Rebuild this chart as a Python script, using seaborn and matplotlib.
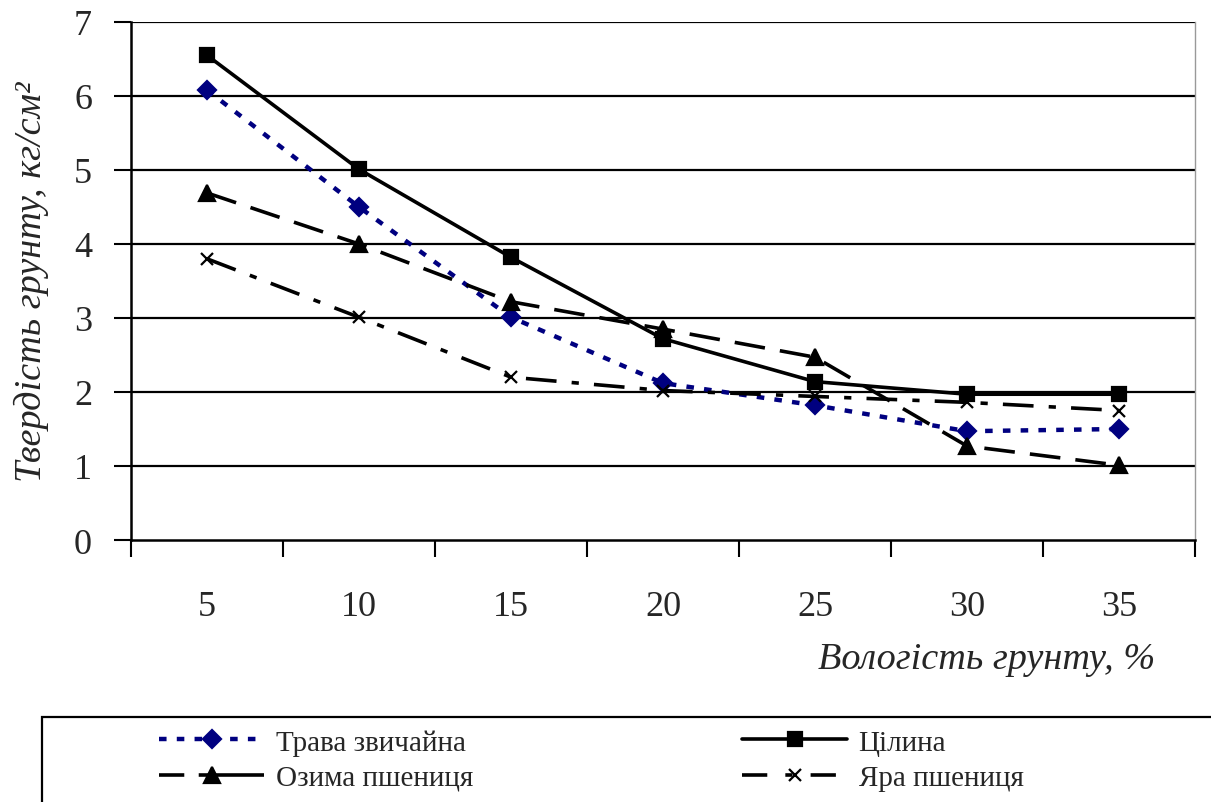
import matplotlib
matplotlib.use("Agg")
import matplotlib.pyplot as plt
from matplotlib.lines import Line2D
from matplotlib.patches import Rectangle
import seaborn as sns
import pandas as pd
import numpy as np

moisture = ["5", "10", "15", "20", "25", "30", "35"]
trava = [6.08, 4.50, 3.01, 2.12, 1.82, 1.47, 1.50]
tsilyna = [6.55, 5.01, 3.82, 2.72, 2.14, 1.97, 1.97]
ozyma = [4.69, 4.00, 3.22, 2.85, 2.47, 1.27, 1.01]
yara = [3.80, 3.01, 2.20, 2.02, 1.94, 1.86, 1.75]
yticks = [0, 1, 2, 3, 4, 5, 6, 7]

series_names = ["Трава звичайна", "Озима пшениця", "Цілина", "Яра пшениця"]
series_vals = [trava, ozyma, tsilyna, yara]

sns.set_theme(style="white")
plt.rcParams["font.family"] = ["Liberation Serif", "DejaVu Serif"]

fig = plt.figure(figsize=(12.11, 8.03), dpi=100)
W, H = 1211, 803
ax = fig.add_axes([131 / W, 1 - 541 / H, (1195 - 131) / W, (541 - 23) / H])

styles = {
    "Трава звичайна": dict(color="#000080", lw=3.2, dashes=(1.7, 2.3), marker="D", ms=9, legdash=(1.7, 2.3)),
    "Озима пшениця": dict(color="black", lw=2.6, dashes=(8.5, 4.2), marker="^", ms=11.5, legdash=(7, 4, 40, 1)),
    "Цілина": dict(color="black", lw=2.6, dashes=None, marker="s", ms=10, legdash=None),
    "Яра пшениця": dict(color="black", lw=2.6, dashes=(8.5, 4.2, 2.0, 4.2), marker="x", ms=9, legdash=(7, 5, 2, 5)),
}

xpos = np.arange(len(moisture))
for name, vals in zip(series_names, series_vals):
    st = styles[name]
    df = pd.DataFrame({"x": xpos, "y": vals})
    sns.lineplot(data=df, x="x", y="y", ax=ax, color=st["color"], lw=st["lw"],
                 marker=st["marker"], markersize=st["ms"], markeredgecolor=st["color"],
                 markeredgewidth=1.6, zorder=3, legend=False)
    line = ax.lines[-1]
    if st["dashes"] is not None:
        line.set_dashes(st["dashes"])

ax.set_xlim(-0.5, len(moisture) - 0.5)
ax.set_ylim(0, 7)
ax.set_yticks(yticks)
ax.set_yticklabels([str(t) for t in yticks], fontsize=26)
ax.set_xticks(xpos)
ax.set_xticklabels(moisture, fontsize=26)
ax.set_xticks(np.arange(-0.5, len(moisture), 1.0), minor=True)
ax.tick_params(axis="x", which="major", length=0, pad=36)
ax.tick_params(axis="x", which="minor", length=12, width=1.5, color="black", direction="out", bottom=True)
ax.tick_params(axis="y", which="major", length=12, width=1.5, color="black", direction="out", left=True, pad=16)

for v in yticks[1:]:
    ax.axhline(v, color="black", lw=1.6, zorder=1)

for side in ["left", "bottom"]:
    ax.spines[side].set_color("black")
    ax.spines[side].set_linewidth(1.8)
ax.spines["top"].set_visible(False)
ax.spines["right"].set_color("#999999")
ax.spines["right"].set_linewidth(1.0)

ax.set_xlabel("")
ax.set_ylabel("Твердість грунту, кг/см²", fontsize=27.5, style="italic", labelpad=18)

fig.text(1155 / W, 1 - 660 / H, "Вологість грунту, %", fontsize=27.5, style="italic",
         ha="right", va="center")

# legend frame (extends past figure edges as in the reference)
fig.patches.append(Rectangle((42 / W, -0.1), 1.2, (803 - 718) / H + 0.1, transform=fig.transFigure,
                             fill=False, edgecolor="black", lw=1.6))

def make_handle(name):
    st = styles[name]
    h = Line2D([], [], color=st["color"], lw=st["lw"], marker=st["marker"], markersize=st["ms"],
               markeredgecolor=st["color"], markeredgewidth=1.6)
    if st["legdash"] is not None:
        h.set_dashes(st["legdash"])
    return h

cols = [(series_names[0:2], 159), (series_names[2:4], 742)]
for names, xleft in cols:
    leg = fig.legend(handles=[make_handle(n) for n in names], labels=names,
                     loc="center left", bbox_to_anchor=(xleft / W, 1 - 761 / H),
                     fontsize=21, handlelength=3.6, frameon=False, borderpad=0,
                     labelspacing=0.3, handletextpad=0.4, borderaxespad=0)

fig.savefig("out.png", dpi=100, facecolor="white")
